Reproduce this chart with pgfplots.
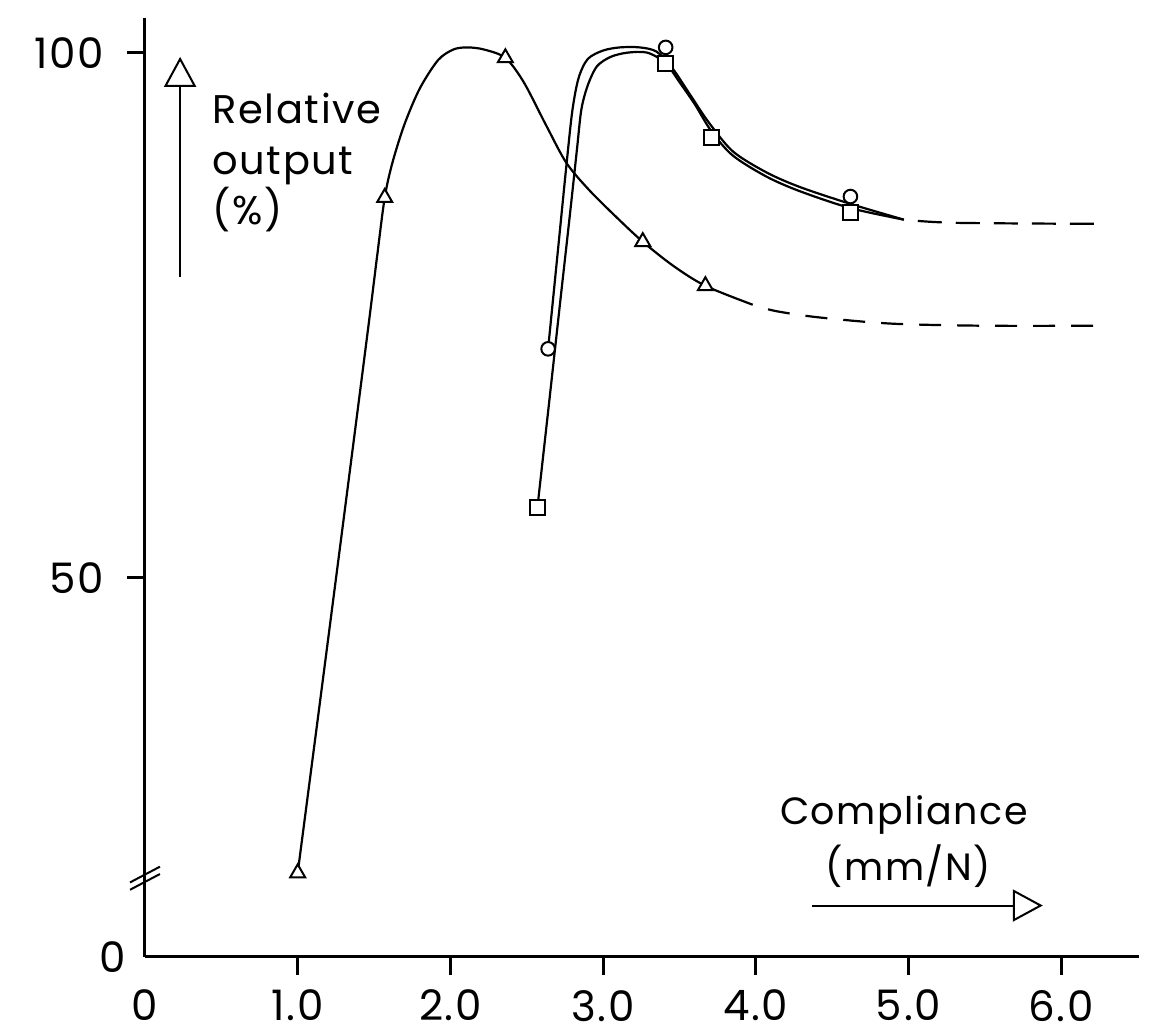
\documentclass[border=0pt]{standalone}
\usepackage{fontspec}
\setmainfont{Poppins}[LetterSpace=4]
\usepackage{pgfplots}
\pgfplotsset{compat=1.18}
\usetikzlibrary{arrows.meta}
\begin{document}
\fontsize{19}{23}\selectfont
\begin{tikzpicture}
\begin{axis}[name=ax, scale only axis, width=497pt, height=469.5pt,
  xmin=0, xmax=6.51, ymin=13.9, ymax=103.3,
  axis lines=left, axis line style={-, line width=1.5pt},
  clip=false,
  xtick={1,2,3,4,5,6}, xticklabels={1.0,2.0,3.0,4.0,5.0,6.0},
  ytick={50,100}, yticklabels={50,100},
  extra x ticks={0}, extra x tick labels={0},
  extra x tick style={major tick length=0pt, xticklabel style={yshift=-9pt}},
  extra y ticks={13.9}, extra y tick labels={0},
  extra y tick style={major tick length=0pt, yticklabel style={xshift=2pt}},
  tick align=outside, major tick length=9pt, tick style={line width=1.5pt, black},
  tick label style={font=\fontsize{21}{25}\selectfont},
  yticklabel style={xshift=-5pt},
  xticklabel style={yshift=-1pt},
  every axis plot/.append style={line width=1.1pt, black},
]
% triangle series curve (solid)
\addplot[smooth] coordinates {
(1.00,21.9) (1.148,38.4) (1.317,57.4) (1.460,73.6) (1.52,80.6) (1.57,86.2) (1.62,89.5) (1.70,93.2) (1.80,96.6) (1.92,99.3) (2.02,100.3) (2.11,100.5) (2.22,100.3) (2.36,99.5) (2.48,97.2) (2.63,93.0) (2.76,89.5) (2.91,86.9) (3.09,84.3) (3.26,82.0) (3.46,79.7) (3.67,77.8) (3.98,76.0)};
% triangle series curve (dashed continuation)
\addplot[smooth, dash pattern=on 11pt off 8pt, dash phase=-8pt] coordinates {
(3.98,76.0) (4.13,75.4) (4.41,74.8) (4.89,74.2) (5.50,74.0) (6.23,74.0)};
% circle series curve
\addplot[smooth] coordinates {
(2.64,71.8) (2.71,82.0) (2.765,90.0) (2.80,94.6) (2.84,97.6) (2.90,99.4) (3.00,100.2) (3.11,100.5) (3.24,100.5) (3.35,100.1) (3.45,98.6) (3.57,96.0) (3.69,93.4) (3.85,90.6) (4.07,88.6) (4.29,87.2) (4.62,85.6) (4.97,84.1)};
% square series curve
\addplot[smooth] coordinates {
(2.57,56.7) (2.649,67.0) (2.721,76.5) (2.786,85.0) (2.829,90.8) (2.858,94.6) (2.90,96.9) (2.96,98.7) (3.05,99.6) (3.16,100.0) (3.29,100.0) (3.41,99.0) (3.50,97.2) (3.60,95.1) (3.71,92.5) (3.85,90.2) (4.07,88.2) (4.29,86.8) (4.62,85.2) (4.97,84.1)};
% common dashed continuation
\addplot[smooth, dash pattern=on 12pt off 7pt, dash phase=-7pt] coordinates {
(4.97,84.1) (5.30,83.8) (6.23,83.7)};
% markers
\addplot[only marks, mark=triangle*, mark size=4.3pt, mark options={fill=white, draw=black, line width=1pt}] coordinates {
(1.00,21.9) (1.57,86.2) (2.36,99.5) (3.26,82.0) (3.67,77.8)};
\addplot[only marks, mark=*, mark size=3.4pt, mark options={fill=white, draw=black, line width=1pt}] coordinates {
(2.64,71.8) (3.41,100.5) (4.62,86.3)};
\addplot[only marks, mark=square*, mark size=3.7pt, mark options={fill=white, draw=black, line width=1pt}] coordinates {
(2.57,56.7) (3.41,99.0) (3.71,91.9) (4.62,84.8)};
% axis break marks
\draw[line width=1pt] (axis cs:-0.098,21.0) -- (axis cs:0.098,22.5);
\draw[line width=1pt] (axis cs:-0.098,20.3) -- (axis cs:0.098,21.8);
% y label with arrow
\draw[line width=1pt, -{Triangle[open, width=16pt, length=15pt, line width=1pt]}] (axis cs:0.23,78.6) -- (axis cs:0.23,99.6);
\begin{scope}[font=\fontsize{20}{24}\selectfont]
\node[anchor=base west, inner sep=0pt] at (axis cs:0.44,93.3) {Relative};
\node[anchor=base west, inner sep=0pt] at (axis cs:0.44,88.4) {output};
\node[anchor=base west, inner sep=0pt] at (axis cs:0.44,83.6) {(\%)};
\end{scope}
% x label with arrow
\node[anchor=base, inner sep=0pt] at (axis cs:4.97,26.5) {Compliance};
\node[anchor=base, inner sep=0pt] at (axis cs:5.0,21.2) {(mm/N)};
\draw[line width=1pt, -{Triangle[open, width=16pt, length=15pt, line width=1pt]}] (axis cs:4.37,18.8) -- (axis cs:5.88,18.8);
\end{axis}
\pgfresetboundingbox
\path ([xshift=-72.5pt,yshift=-39pt]ax.south west) rectangle ([xshift=5.5pt,yshift=9pt]ax.north east);
\end{tikzpicture}
\end{document}
